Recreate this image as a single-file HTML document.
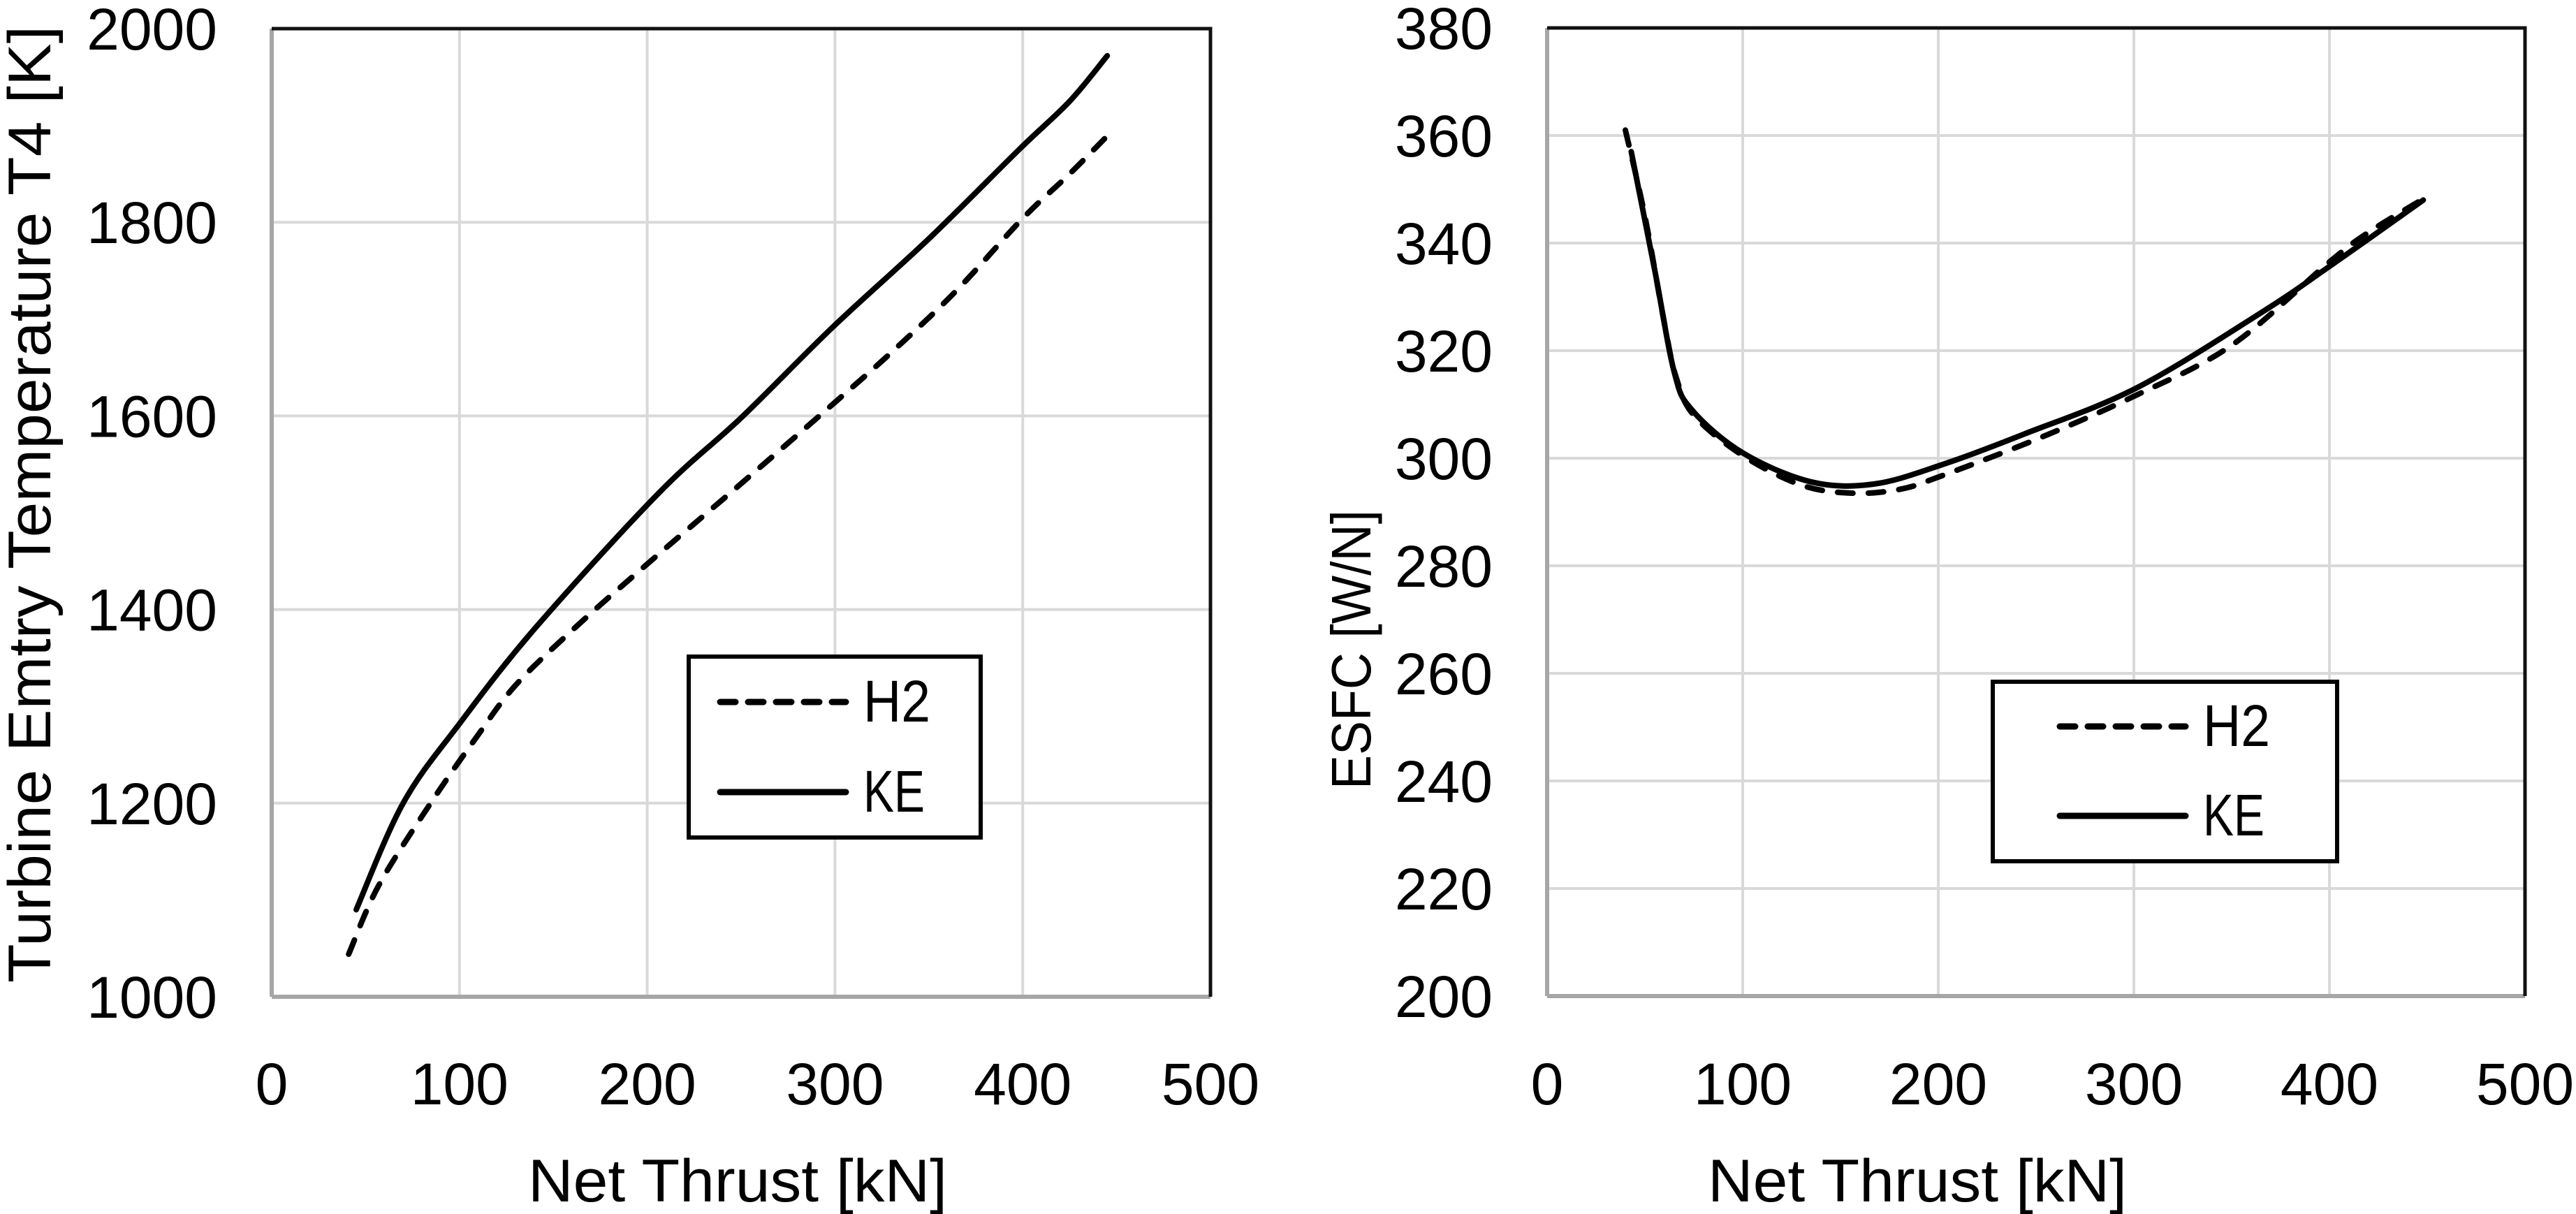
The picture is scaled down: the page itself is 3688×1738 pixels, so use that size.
<!DOCTYPE html>
<html><head><meta charset="utf-8"><style>
html,body{margin:0;padding:0;background:#fff;}
svg{display:block;font-family:"Liberation Sans",sans-serif;}
</style></head><body>
<svg id="svg" width="3688" height="1738" viewBox="0 0 3688 1738">
<g id="left"></g>
<g id="right"></g>
</svg>
<script>
// ---- data ----
const xTicks = [0,100,200,300,400,500];
const t4Ticks = [1000,1200,1400,1600,1800,2000];
const esfcTicks = [200,220,240,260,280,300,320,340,360,380];
const t4H2x = [41,57,85,109,130,162,200,247,300,332,365,400,425,447];
const t4H2y = [1044,1115,1201,1268,1322,1382,1447,1525,1614,1669,1730,1804,1850,1893];
const t4KEx = [45,70,100,140,206,250,299,350,398,425,445];
const t4KEy = [1090,1200,1282,1380,1520,1598,1692,1783,1875,1925,1972];
const esH2x = [40,50,60,66,75,100,130,156,180,200,250,300,350,400,420,447];
const esH2y = [361,345,325,315,308,300.5,295,293.5,294.2,296.5,303.5,311.5,321,336.5,342,348];
const esKEx = [43,55,65,74,100,135,167,202,244,301,364,399,448];
const esKEy = [357,335,316,309,301,295.6,295.2,298.8,304.5,313,326.8,335.4,348];

const NS="http://www.w3.org/2000/svg";
function mk(parent,tag,attrs,text){const e=document.createElementNS(NS,tag);for(const k in attrs)e.setAttribute(k,attrs[k]);if(text!==undefined)e.textContent=text;parent.appendChild(e);return e;}
function pathD(xs,ys,sx,sy){
  const p=xs.map((x,i)=>[sx(x),sy(ys[i])]);
  let d="M"+p[0][0].toFixed(1)+","+p[0][1].toFixed(1);
  for(let i=0;i<p.length-1;i++){
    const p0=p[Math.max(0,i-1)],p1=p[i],p2=p[i+1],p3=p[Math.min(p.length-1,i+2)];
    const c1=[p1[0]+(p2[0]-p0[0])/6,p1[1]+(p2[1]-p0[1])/6];
    const c2=[p2[0]-(p3[0]-p1[0])/6,p2[1]-(p3[1]-p1[1])/6];
    d+=" C"+c1.map(v=>v.toFixed(1))+" "+c2.map(v=>v.toFixed(1))+" "+p2.map(v=>v.toFixed(1));
  }
  return d;
}
function chart(g,cfg){
  const sx=v=>cfg.x0+(v-0)/500*(cfg.x1-cfg.x0);
  const sy=v=>cfg.yb-(v-cfg.ymin)/(cfg.ymax-cfg.ymin)*(cfg.yb-cfg.yt);
  xTicks.forEach(t=>{
    if(t>0&&t<500){const l=mk(g,'line',{x1:sx(t),x2:sx(t),y1:cfg.yt,y2:cfg.yb,stroke:'#d9d9d9','stroke-width':4});
    
    }
    const tx=mk(g,'text',{x:sx(t),y:1581,'font-size':84,'text-anchor':'middle',fill:'#000'},t);
    
    
  });
  cfg.yTicks.forEach(t=>{
    if(t>cfg.ymin&&t<cfg.ymax){const l=mk(g,'line',{x1:cfg.x0,x2:cfg.x1,y1:sy(t),y2:sy(t),stroke:'#d9d9d9','stroke-width':4});
    
    }
    const tx=mk(g,'text',{x:cfg.x0-78,y:sy(t)+30,'font-size':84,'text-anchor':'end',fill:'#000'},t);
    
    
  });
  let a=mk(g,'line',{x1:cfg.x0,x2:cfg.x0,y1:cfg.yt,y2:cfg.yb,stroke:'#a6a6a6','stroke-width':6});
  
  
  a=mk(g,'line',{x1:cfg.x0,x2:cfg.x1,y1:cfg.yb,y2:cfg.yb,stroke:'#a6a6a6','stroke-width':6});
  
  
  a=mk(g,'polyline',{points:`${cfg.x0},${cfg.yt} ${cfg.x1},${cfg.yt} ${cfg.x1},${cfg.yb}`,fill:'none',stroke:'#111','stroke-width':5});
  
  
  const h2=mk(g,'path',{d:pathD(cfg.h2x,cfg.h2y,sx,sy),fill:'none',stroke:'#000','stroke-width':8,'stroke-dasharray':'22 22','stroke-linecap':'round'});
  
  
  const ke=mk(g,'path',{d:pathD(cfg.kex,cfg.key,sx,sy),fill:'none',stroke:'#000','stroke-width':8,'stroke-linecap':'round'});
  
  
  const xt=mk(g,'text',{x:cfg.xtc,y:1720,'font-size':86,'text-anchor':'middle',textLength:600,lengthAdjust:'spacingAndGlyphs'},'Net Thrust [kN]');
  
  
  const yt=mk(g,'text',{x:0,y:0,'font-size':cfg.ytf,'text-anchor':'middle',textLength:cfg.ytl,lengthAdjust:'spacingAndGlyphs',transform:`translate(${cfg.ytx},${cfg.yty}) rotate(-90)`},cfg.ytitle);
  
  
  const L=cfg.leg;
  const lg=mk(g,'g',{});
  
  
  mk(lg,'rect',{x:L.x,y:L.y,width:L.w,height:L.h,fill:'#fff',stroke:'#000','stroke-width':6});
  const e1=mk(lg,'line',{x1:L.lx1,x2:L.lx2,y1:L.y1,y2:L.y1,stroke:'#000','stroke-width':9,'stroke-dasharray':'22 18','stroke-linecap':'round'});
  
  
  const t1=mk(lg,'text',{x:L.tx,y:L.y1+28,'font-size':84,textLength:96,lengthAdjust:'spacingAndGlyphs'},'H2');
  
  
  const e2=mk(lg,'line',{x1:L.lx1,x2:L.lx2,y1:L.y2,y2:L.y2,stroke:'#000','stroke-width':9,'stroke-linecap':'round'});
  
  
  const t2=mk(lg,'text',{x:L.tx,y:L.y2+28,'font-size':84,textLength:88,lengthAdjust:'spacingAndGlyphs'},'KE');
  
  
}
chart(document.getElementById('left'),{x0:389,x1:1733,yt:41,yb:1427,ymin:1000,ymax:2000,yTicks:t4Ticks,
  h2x:t4H2x,h2y:t4H2y,kex:t4KEx,key:t4KEy,xtc:1056,ytx:72,yty:722,ytl:1370,ytf:86,ytitle:'Turbine Emtry Temperature T4 [K]',
  leg:{x:986,y:940,w:418,h:259,lx1:1031,lx2:1211,y1:1005,y2:1134,tx:1236}});
chart(document.getElementById('right'),{x0:2215,x1:3615,yt:40,yb:1426,ymin:200,ymax:380,yTicks:esfcTicks,
  h2x:esH2x,h2y:esH2y,kex:esKEx,key:esKEy,xtc:2745,ytx:1962,yty:930,ytl:400,ytf:80,ytitle:'ESFC [W/N]',
  leg:{x:2853,y:976,w:493,h:257,lx1:2949,lx2:3129,y1:1040,y2:1168,tx:3154}});
</script>
</body></html>
